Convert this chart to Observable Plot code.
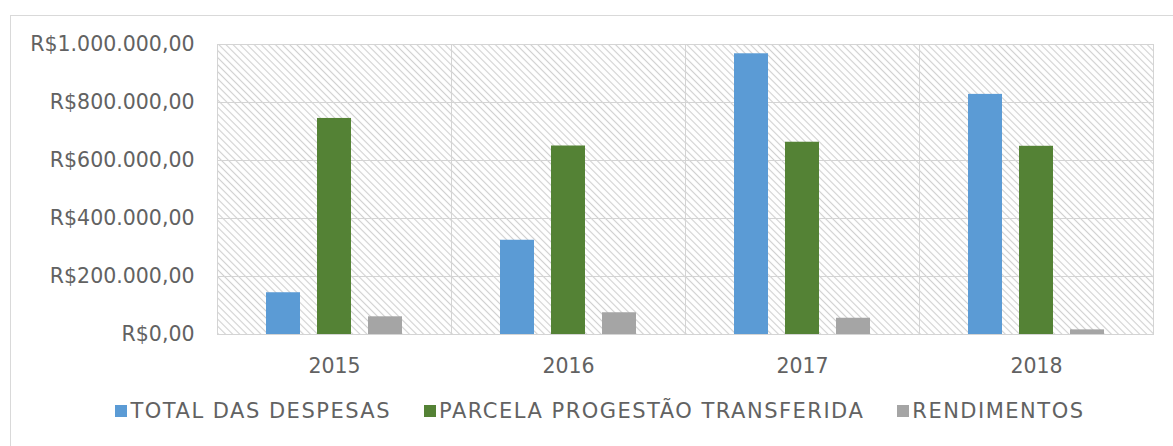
<!DOCTYPE html>
<html>
<head>
<meta charset="utf-8">
<script src="https://cdn.jsdelivr.net/npm/d3@7"></script>
<script src="https://cdn.jsdelivr.net/npm/@observablehq/plot@0.6"></script>
<style>
  html, body { margin: 0; padding: 0; background: #fff; overflow: hidden; width: 1173px; height: 446px; }
  #wrap { position: relative; width: 1173px; height: 446px; }
  #border { position: absolute; left: 10px; top: 15px; width: 1200px; height: 500px; border: 1px solid #d9d9d9; box-sizing: border-box; }
  #chart { position: absolute; left: 0; top: 0; }
  #legend { position: absolute; left: 0; top: 397px; width: 1200px; display: flex; justify-content: center; gap: 33px;
            font-family: "DejaVu Sans", sans-serif; font-size: 21px; letter-spacing: 1.5px; color: #626262; line-height: 28px; }
  .item { display: flex; align-items: center; }
  .sw { width: 12px; height: 12px; margin-right: 3px; }
</style>
</head>
<body>
<div id="wrap">
  <div id="border"></div>
  <div id="chart"></div>
  <div id="legend"></div>
</div>
<script>
const years = ["2015", "2016", "2017", "2018"];
const seriesNames = ["TOTAL DAS DESPESAS", "PARCELA PROGESTÃO TRANSFERIDA", "RENDIMENTOS"];
const seriesColors = ["#5b9bd5", "#548235", "#a5a5a5"];
const totalDespesas = [144000, 325000, 968000, 828000];
const parcelaTransferida = [745000, 650000, 663000, 649000];
const rendimentos = [61000, 75000, 56000, 16000];
const yTicks = [0, 200000, 400000, 600000, 800000, 1000000];

const seriesValues = [totalDespesas, parcelaTransferida, rendimentos];
const rows = [];
years.forEach((yr, i) => {
  seriesNames.forEach((s, j) => rows.push({year: yr, series: s, value: seriesValues[j][i]}));
});

const brl = d3.formatLocale({decimal: ",", thousands: ".", grouping: [3], currency: ["R$", ""]}).format("$,.2f");

const plot = Plot.plot({
  width: 1173,
  height: 390,
  marginLeft: 216,
  marginRight: 19,
  marginTop: 44,
  marginBottom: 56,
  style: {fontFamily: "DejaVu Sans, sans-serif", fontSize: "20.5px", color: "#626262", background: "transparent"},
  fx: {domain: years, padding: 0, label: null, tickSize: 0, tickPadding: 24},
  x: {domain: seriesNames, paddingInner: 0.33, paddingOuter: 0.92, axis: null},
  y: {domain: [0, 1000000], ticks: yTicks, tickFormat: brl, tickSize: 0, tickPadding: 23, label: null},
  color: {domain: seriesNames, range: seriesColors},
  marks: [
    Plot.frame({fill: "url(#hatch)", stroke: null}),
    Plot.gridY(yTicks, {stroke: "#d4d4d4", strokeOpacity: 1}),
    Plot.frame({stroke: "#d4d4d4", strokeOpacity: 1}),
    Plot.barY(rows, {fx: "year", x: "series", y: "value", fill: "series"})
  ]
});

const ns = "http://www.w3.org/2000/svg";
const defs = document.createElementNS(ns, "defs");
defs.innerHTML = '<pattern id="hatch" width="5" height="5" patternUnits="userSpaceOnUse" patternTransform="rotate(45)">' +
  '<rect width="5" height="5" fill="#ffffff"/>' +
  '<line x1="0" y1="2.5" x2="5" y2="2.5" stroke="#d0d0d0" stroke-width="1.1"/></pattern>';
plot.insertBefore(defs, plot.firstChild);
document.getElementById("chart").appendChild(plot);

const legend = document.getElementById("legend");
seriesNames.forEach((s, j) => {
  const it = document.createElement("div");
  it.className = "item";
  const sw = document.createElement("div");
  sw.className = "sw";
  sw.style.background = seriesColors[j];
  const tx = document.createElement("span");
  tx.textContent = s;
  it.appendChild(sw);
  it.appendChild(tx);
  legend.appendChild(it);
});
</script>
</body>
</html>
